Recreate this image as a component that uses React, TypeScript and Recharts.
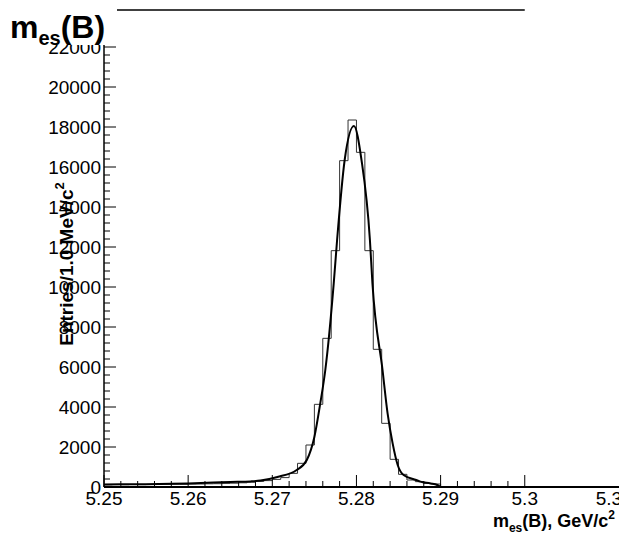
import React from 'react';
import { ComposedChart, Line, XAxis, YAxis, ReferenceLine } from 'recharts';

// histogram: 1 MeV bins starting at 5.250 GeV
const BIN_START = 5.25;
const BIN_WIDTH = 0.001;
const BIN_COUNTS = [
  110, 120, 115, 125, 120, 130, 125, 135, 140, 135,
  145, 150, 160, 165, 180, 190, 210, 240, 280, 320,
  380, 470, 683, 1183, 2100, 4133, 7433, 11817, 16317, 18350,
  16733, 11817, 6883, 3183, 1383, 633, 350, 267, 183, 150,
  0, 0, 0, 0, 0, 0, 0, 0, 0, 0,
];

// fitted curve
const FIT_X = [
  5.25, 5.252, 5.255, 5.258, 5.26, 5.263, 5.265, 5.2674, 5.2686, 5.2706,
  5.2729, 5.2741, 5.275, 5.2757, 5.2763, 5.2773, 5.2777, 5.2786, 5.2797, 5.2806,
  5.2816, 5.2819, 5.2831, 5.2837, 5.2843, 5.2849, 5.2856, 5.2871, 5.2876, 5.2888,
  5.2896, 5.29,
];
const FIT_Y = [
  130, 133, 140, 160, 180, 220, 250, 280, 320, 500,
  850, 1350, 2500, 4180, 5850, 10180, 12350, 16350, 18050, 16350,
  12350, 10180, 5850, 3680, 2180, 1100, 600, 350, 270, 180,
  100, 0,
];

const X_TICKS = [5.25, 5.26, 5.27, 5.28, 5.29, 5.3, 5.31];
const X_TICK_LABELS = ['5.25', '5.26', '5.27', '5.28', '5.29', '5.3', '5.3'];
const X_MINOR_STEP = 0.002;
const Y_MAJOR_STEP = 2000;
const Y_MINOR_STEP = 400;
const Y_MAX = 23850;
const X_MIN = 5.25;
const X_MAX = 5.3112;
const HIST_END = 5.3;

const FONT = '"Liberation Sans", Arial, sans-serif';

const histData = BIN_COUNTS.map((c, i) => ({ x: +(BIN_START + i * BIN_WIDTH).toFixed(4), y: c }));
histData.push({ x: HIST_END, y: 0 });

const fitData = FIT_X.map((x, i) => ({ x, y: FIT_Y[i] }));

const xTicks: number[] = [];
for (let i = 0; i <= Math.round((HIST_END - X_MIN) / X_MINOR_STEP); i++) {
  xTicks.push(+(X_MIN + i * X_MINOR_STEP).toFixed(4));
}
xTicks.push(5.31);

const yTicks: number[] = [];
for (let v = 0; v < Y_MAX; v += Y_MINOR_STEP) yTicks.push(v);

function XTick(props: any) {
  const { x, y, payload } = props;
  const v = payload.value;
  const idx = X_TICKS.findIndex((t) => Math.abs(t - v) < 1e-6);
  const major = idx >= 0;
  return (
    <g>
      {v <= HIST_END + 1e-6 && (
        <line x1={x} x2={x} y1={y} y2={y - (major ? 12 : 6)} stroke="#000" strokeWidth={1} />
      )}
      {major && (
        <text x={x} y={y + 18} textAnchor="middle" fontFamily={FONT} fontSize={19} fill="#000">
          {X_TICK_LABELS[idx]}
        </text>
      )}
    </g>
  );
}

function YTick(props: any) {
  const { x, y, payload } = props;
  const v = payload.value;
  const major = v % Y_MAJOR_STEP === 0;
  return (
    <g>
      <line x1={x} x2={x + (major ? 12 : 6)} y1={y} y2={y} stroke="#000" strokeWidth={1} />
      {major && (
        <text x={x - 3} y={y + 7} textAnchor="end" fontFamily={FONT} fontSize={19} fill="#000">
          {v}
        </text>
      )}
    </g>
  );
}

function XTitle(props: any) {
  const vb = props.viewBox;
  return (
    <text x={vb.x + vb.width - 4} y={vb.y + 40} textAnchor="end" fontFamily={FONT} fontWeight="bold" fontSize={18} fill="#000">
      m<tspan fontSize={12} dy={5}>es</tspan>
      <tspan dy={-5}>(B), GeV/c</tspan>
      <tspan fontSize={12} dy={-8}>2</tspan>
    </text>
  );
}

function YTitle() {
  const cx = 66;
  const cy = 264;
  return (
    <text x={cx} y={cy} transform={`rotate(-90 ${cx} ${cy})`} textAnchor="middle" dominantBaseline="central"
      fontFamily={FONT} fontWeight="bold" fontSize={19} fill="#000">
      Entries/1.0 MeV/c<tspan fontSize={13} dy={-7}>2</tspan>
    </text>
  );
}

export default function App() {
  return (
    <div style={{ position: 'absolute', left: 0, top: 0, width: 619, height: 538, background: '#fff' }}>
      <ComposedChart width={619} height={538} margin={{ top: 10, right: 0, bottom: 21, left: 0 }}>
        <XAxis
          dataKey="x"
          type="number"
          domain={[X_MIN, X_MAX]}
          ticks={xTicks}
          interval={0}
          allowDataOverflow
          height={30}
          tickSize={0}
          tickMargin={0}
          tickLine={false}
          tick={<XTick />}
          axisLine={{ stroke: '#000', strokeWidth: 2 }}
          label={<XTitle />}
        />
        <YAxis
          type="number"
          domain={[0, Y_MAX]}
          ticks={yTicks}
          interval={0}
          allowDataOverflow
          width={104}
          tickSize={0}
          tickMargin={0}
          tickLine={false}
          tick={<YTick />}
          axisLine={{ stroke: '#000', strokeWidth: 1.5 }}
          label={<YTitle />}
        />
        <ReferenceLine
          segment={[{ x: X_MIN, y: Y_MAX }, { x: HIST_END, y: Y_MAX }]}
          stroke="#000"
          strokeWidth={1.5}
          ifOverflow="visible"
        />
        <Line
          data={histData}
          dataKey="y"
          type="stepAfter"
          stroke="#333"
          strokeWidth={1}
          dot={false}
          isAnimationActive={false}
        />
        <Line
          data={fitData}
          dataKey="y"
          type="monotone"
          stroke="#000"
          strokeWidth={2}
          dot={false}
          isAnimationActive={false}
        />
      </ComposedChart>
      <svg width={119} height={46} style={{ position: 'absolute', left: 0, top: 0 }}>
        <rect x={0} y={0} width={117} height={45} fill="#fff" />
        <text x={10} y={38} fontFamily={FONT} fontWeight="bold" fontSize={32} fill="#000">
          m<tspan fontSize={20} dy={7}>es</tspan>
          <tspan dy={-7}>(B)</tspan>
        </text>
      </svg>
    </div>
  );
}
